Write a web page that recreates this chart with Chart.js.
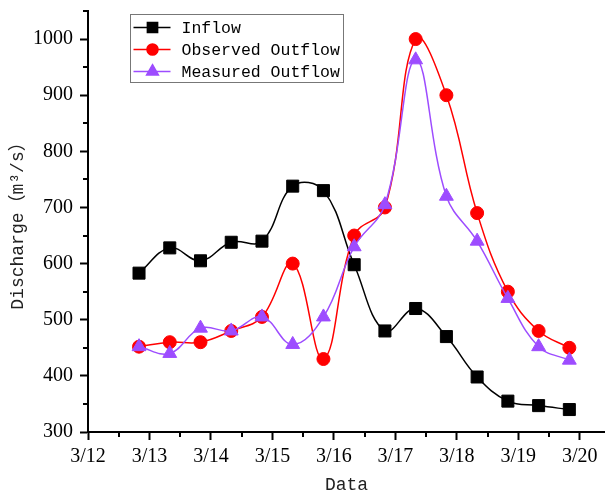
<!DOCTYPE html>
<html>
<head>
<meta charset="utf-8">
<script src="https://cdn.jsdelivr.net/npm/chart.js@4.4.1/dist/chart.umd.min.js"></script>
<style>
  html, body { margin: 0; padding: 0; background: #fff; }
  #wrap { width: 605px; height: 494px; }
</style>
</head>
<body>
<div id="wrap"><canvas id="c" width="605" height="494"></canvas></div>
<script>
// Sampling times, in days after 3/12 00:00
const times = [0.83, 1.33, 1.83, 2.33, 2.83, 3.33, 3.83, 4.33, 4.83, 5.33, 5.83, 6.33, 6.83, 7.33, 7.83];

// Discharge series (m³/s)
const inflow = [583, 628, 605, 638, 640, 738, 730, 598, 480, 520, 470, 398, 355, 347, 340];
const observedOutflow = [452, 460, 460, 480, 505, 600, 430, 650, 700, 1000, 900, 690, 550, 480, 450];
const measuredOutflow = [452, 440, 485, 480, 505, 456, 505, 630, 705, 963, 720, 640, 538, 452, 428];

// Axis ticks
const dayTicks = [0, 1, 2, 3, 4, 5, 6, 7, 8];
const dayLabels = ['3/12', '3/13', '3/14', '3/15', '3/16', '3/17', '3/18', '3/19', '3/20'];
const dischargeTicks = [300, 400, 500, 600, 700, 800, 900, 1000];

const toPoints = ys => times.map((t, i) => ({ x: t, y: ys[i] }));

const monoFont = '"Liberation Mono", "Noto Sans CJK SC", monospace';
const serifFont = '"Liberation Serif", "DejaVu Serif", serif';

// Minor ticks between the labelled ones, and a boxed legend inside the plot
const decorPlugin = {
  id: 'decor',
  afterDraw(chart) {
    const ctx = chart.ctx;
    const xs = chart.scales.x, ys = chart.scales.y;
    ctx.save();
    ctx.strokeStyle = '#000';
    ctx.lineWidth = 2;
    ctx.beginPath();
    for (let v = 0.5; v < xs.max; v += 1) {
      const px = Math.round(xs.getPixelForValue(v));
      ctx.moveTo(px, xs.top);
      ctx.lineTo(px, xs.top + 5);
    }
    for (let v = 350; v <= ys.max; v += 100) {
      const py = Math.round(ys.getPixelForValue(v));
      ctx.moveTo(ys.right, py);
      ctx.lineTo(ys.right - 5, py);
    }
    ctx.stroke();

    // legend
    const box = { x: 130.5, y: 14.5, w: 213, h: 68 };
    ctx.lineWidth = 1;
    ctx.strokeStyle = '#777';
    ctx.strokeRect(box.x, box.y, box.w, box.h);
    ctx.font = '16.5px ' + monoFont;
    ctx.textBaseline = 'middle';
    ctx.textAlign = 'left';
    const rowGap = 22;
    chart.data.datasets.forEach((ds, i) => {
      const cy = box.y + 13 + i * rowGap;
      ctx.strokeStyle = ds.borderColor;
      ctx.lineWidth = 1.5;
      ctx.beginPath();
      ctx.moveTo(box.x + 3, cy);
      ctx.lineTo(box.x + 40, cy);
      ctx.stroke();
      Chart.helpers.drawPoint(ctx, {
        pointStyle: ds.pointStyle,
        radius: ds.pointRadius * 0.85,
        borderWidth: 1
      }, box.x + 22, cy);
      ctx.fillStyle = ds.pointBackgroundColor;
      ctx.strokeStyle = ds.borderColor;
      ctx.fill();
      ctx.fillStyle = '#000';
      ctx.fillText(ds.label, box.x + 51, cy + 1);
    });
    ctx.restore();
  }
};

new Chart(document.getElementById('c'), {
  type: 'line',
  data: {
    datasets: [
      {
        label: 'Inflow',
        data: toPoints(inflow),
        borderColor: '#000000',
        backgroundColor: '#000000',
        pointBackgroundColor: '#000000',
        pointBorderColor: '#000000',
        pointStyle: 'rect',
        pointRadius: 8.5,
        order: 3
      },
      {
        label: 'Observed Outflow',
        data: toPoints(observedOutflow),
        borderColor: '#ff0000',
        backgroundColor: '#ff0000',
        pointBackgroundColor: '#ff0000',
        pointBorderColor: '#ff0000',
        pointStyle: 'circle',
        pointRadius: 6.5,
        order: 2
      },
      {
        label: 'Measured Outflow',
        data: toPoints(measuredOutflow),
        borderColor: '#9d4cff',
        backgroundColor: '#9d4cff',
        pointBackgroundColor: '#9d4cff',
        pointBorderColor: '#9d4cff',
        pointStyle: 'triangle',
        pointRadius: 8,
        order: 1
      }
    ]
  },
  options: {
    responsive: false,
    animation: false,
    devicePixelRatio: 1,
    layout: { autoPadding: false, padding: { top: 11, right: 0, left: 0, bottom: 0 } },
    elements: {
      line: { borderWidth: 1.5, tension: 0.4, fill: false },
      point: { borderWidth: 1, hoverRadius: 8 }
    },
    plugins: {
      legend: { display: false },
      tooltip: { enabled: false }
    },
    scales: {
      x: {
        type: 'linear',
        min: 0,
        max: 8.41,
        afterBuildTicks: axis => { axis.ticks = dayTicks.map(v => ({ value: v })); },
        afterFit: axis => {
          axis.height = 62;
          axis.paddingLeft = 0;
          axis.paddingRight = 0;
        },
        ticks: {
          callback: v => dayLabels[dayTicks.indexOf(v)] ?? '',
          color: '#000',
          padding: 5,
          maxRotation: 0,
          autoSkip: false,
          font: { family: serifFont, size: 20 }
        },
        grid: { drawOnChartArea: false, drawTicks: true, tickLength: 8, tickColor: '#000', tickWidth: 2 },
        border: { display: true, color: '#000', width: 2 },
        title: {
          display: true,
          text: 'Data',
          color: '#222',
          padding: { top: 0, bottom: -2 },
          font: { family: monoFont, size: 18 }
        }
      },
      y: {
        type: 'linear',
        min: 300,
        max: 1050,
        afterBuildTicks: axis => { axis.ticks = dischargeTicks.map(v => ({ value: v })); },
        afterFit: axis => {
          axis.width = 88;
          axis.paddingTop = 0;
          axis.paddingBottom = 0;
        },
        ticks: {
          callback: v => String(v),
          color: '#000',
          padding: 7,
          font: { family: serifFont, size: 20 }
        },
        grid: { drawOnChartArea: false, drawTicks: true, tickLength: 8, tickColor: '#000', tickWidth: 2 },
        border: { display: true, color: '#000', width: 2 },
        title: {
          display: true,
          text: 'Discharge（m³/s）',
          color: '#222',
          padding: { top: 7, bottom: 0 },
          font: { family: monoFont, size: 18 }
        }
      }
    }
  },
  plugins: [decorPlugin]
});
</script>
</body>
</html>
